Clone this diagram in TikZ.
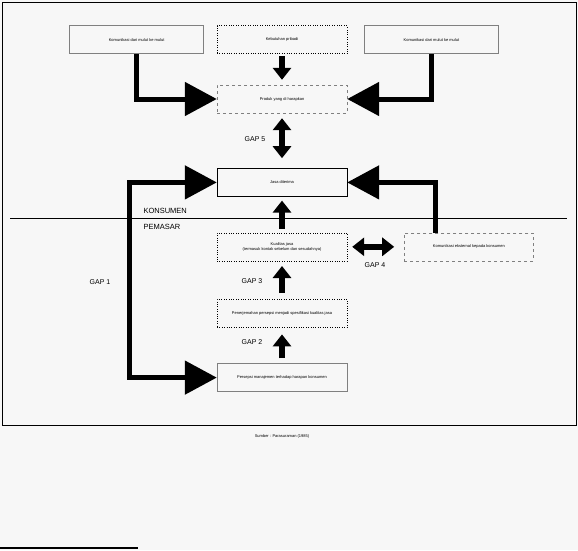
\documentclass[tikz,border=0pt]{standalone}
\usepackage{fontspec}
\setmainfont{Liberation Sans}
\usetikzlibrary{arrows.meta,positioning}

\begin{document}
\begin{tikzpicture}[
    x=1pt, y=-1pt,
    every node/.style={font=\fontsize{4}{5}\selectfont, align=center},
    box/.style={draw=gray, minimum width=130pt, minimum height=28pt, inner sep=1pt},
    topbox/.style={box, minimum width=134pt},
    gaplabel/.style={font=\fontsize{7}{8}\selectfont},
    side/.style={font=\fontsize{7.5}{9}\selectfont, anchor=west},
    bigarrow/.style={line width=5pt, -{Triangle[length=32pt,width=33pt]}},
    smallarrow/.style={line width=6.5pt, -{Triangle[length=12pt,width=18pt]}}
]

% --- Page ---
\path[use as bounding box, fill=black!3] (0,0) rectangle (578,550);
\draw[line width=0.8pt] (2,2) rectangle (576,425);

% --- Nodes ---
\node[box, dashed] (expect) at (282,99) {Produk yang di harapkan};
\node[box, draw=black, dotted, above=31pt of expect] (needs) {Kebutuhan pribadi};
\node[topbox, left=13pt of needs] (wom) {Komunikasi dari mulut ke mulut};
\node[topbox, right=17pt of needs] (past) {Komunikasi dari mulut ke mulut};
\node[box, draw=black, below=55pt of expect] (perceived) {Jasa diterima};
\node[box, draw=black, dotted, below=36pt of perceived] (delivery)
    {Kualitas jasa\\(termasuk kontak sebelum dan sesudahnya)};
\node[box, dashed, minimum width=129pt, right=57pt of delivery] (extcom)
    {Komunikasi eksternal kepada konsumen};
\node[box, draw=black, dotted, below=38pt of delivery] (standard)
    {Penerjemahan persepsi menjadi spesifikasi kualitas jasa};
\node[box, below=36pt of standard] (mgmt) {Persepsi manajemen terhadap harapan konsumen};

% --- Arrows ---
\draw[bigarrow] (wom.south) |- (expect.west);
\draw[bigarrow] (past.south) |- (expect.east);
\draw[smallarrow, shorten <=2pt, shorten >=5pt] (needs) -- (expect);
\draw[smallarrow, {Triangle[length=12pt,width=18pt]}-{Triangle[length=12pt,width=18pt]},
    shorten <=5pt, shorten >=10pt] (expect) -- (perceived);
\draw[bigarrow, {Triangle[length=32pt,width=33pt]}-{Triangle[length=32pt,width=33pt]}]
    (perceived.west) -- ++(-87,0) |- (mgmt.west);
\draw[bigarrow] ([xshift=-33pt]extcom.north) |- (perceived.east);
\draw[smallarrow, shorten <=4pt, shorten >=4pt] (delivery) -- (perceived);
\draw[smallarrow, {Triangle[length=12pt,width=18pt]}-{Triangle[length=12pt,width=18pt]},
    shorten <=5pt, shorten >=10pt] (delivery) -- (extcom);
\draw[smallarrow, shorten <=6pt, shorten >=5pt] (standard) -- (delivery);
\draw[smallarrow, shorten <=5pt, shorten >=7pt] (mgmt) -- (standard);

% --- Divider ---
\draw[line width=0.8pt] (10,218) -- (567,218);
\node[side] (cons) at (140,211) {KONSUMEN};
\node[side] (mark) at (140,227) {PEMASAR};

% --- Gap labels ---
\node[gaplabel] (g5) at (255,139) {GAP 5};
\node[gaplabel] (g4) at (375,265) {GAP 4};
\node[gaplabel] (g3) at (252,281) {GAP 3};
\node[gaplabel] (g2) at (252,342) {GAP 2};
\node[gaplabel] (g1) at (100,282) {GAP 1};

% --- Caption ---
\node (src) at (282,436) {Sumber : Parasuraman (1985)};
\draw[line width=2pt] (0,548) -- (138,548);

\end{tikzpicture}
\end{document}
